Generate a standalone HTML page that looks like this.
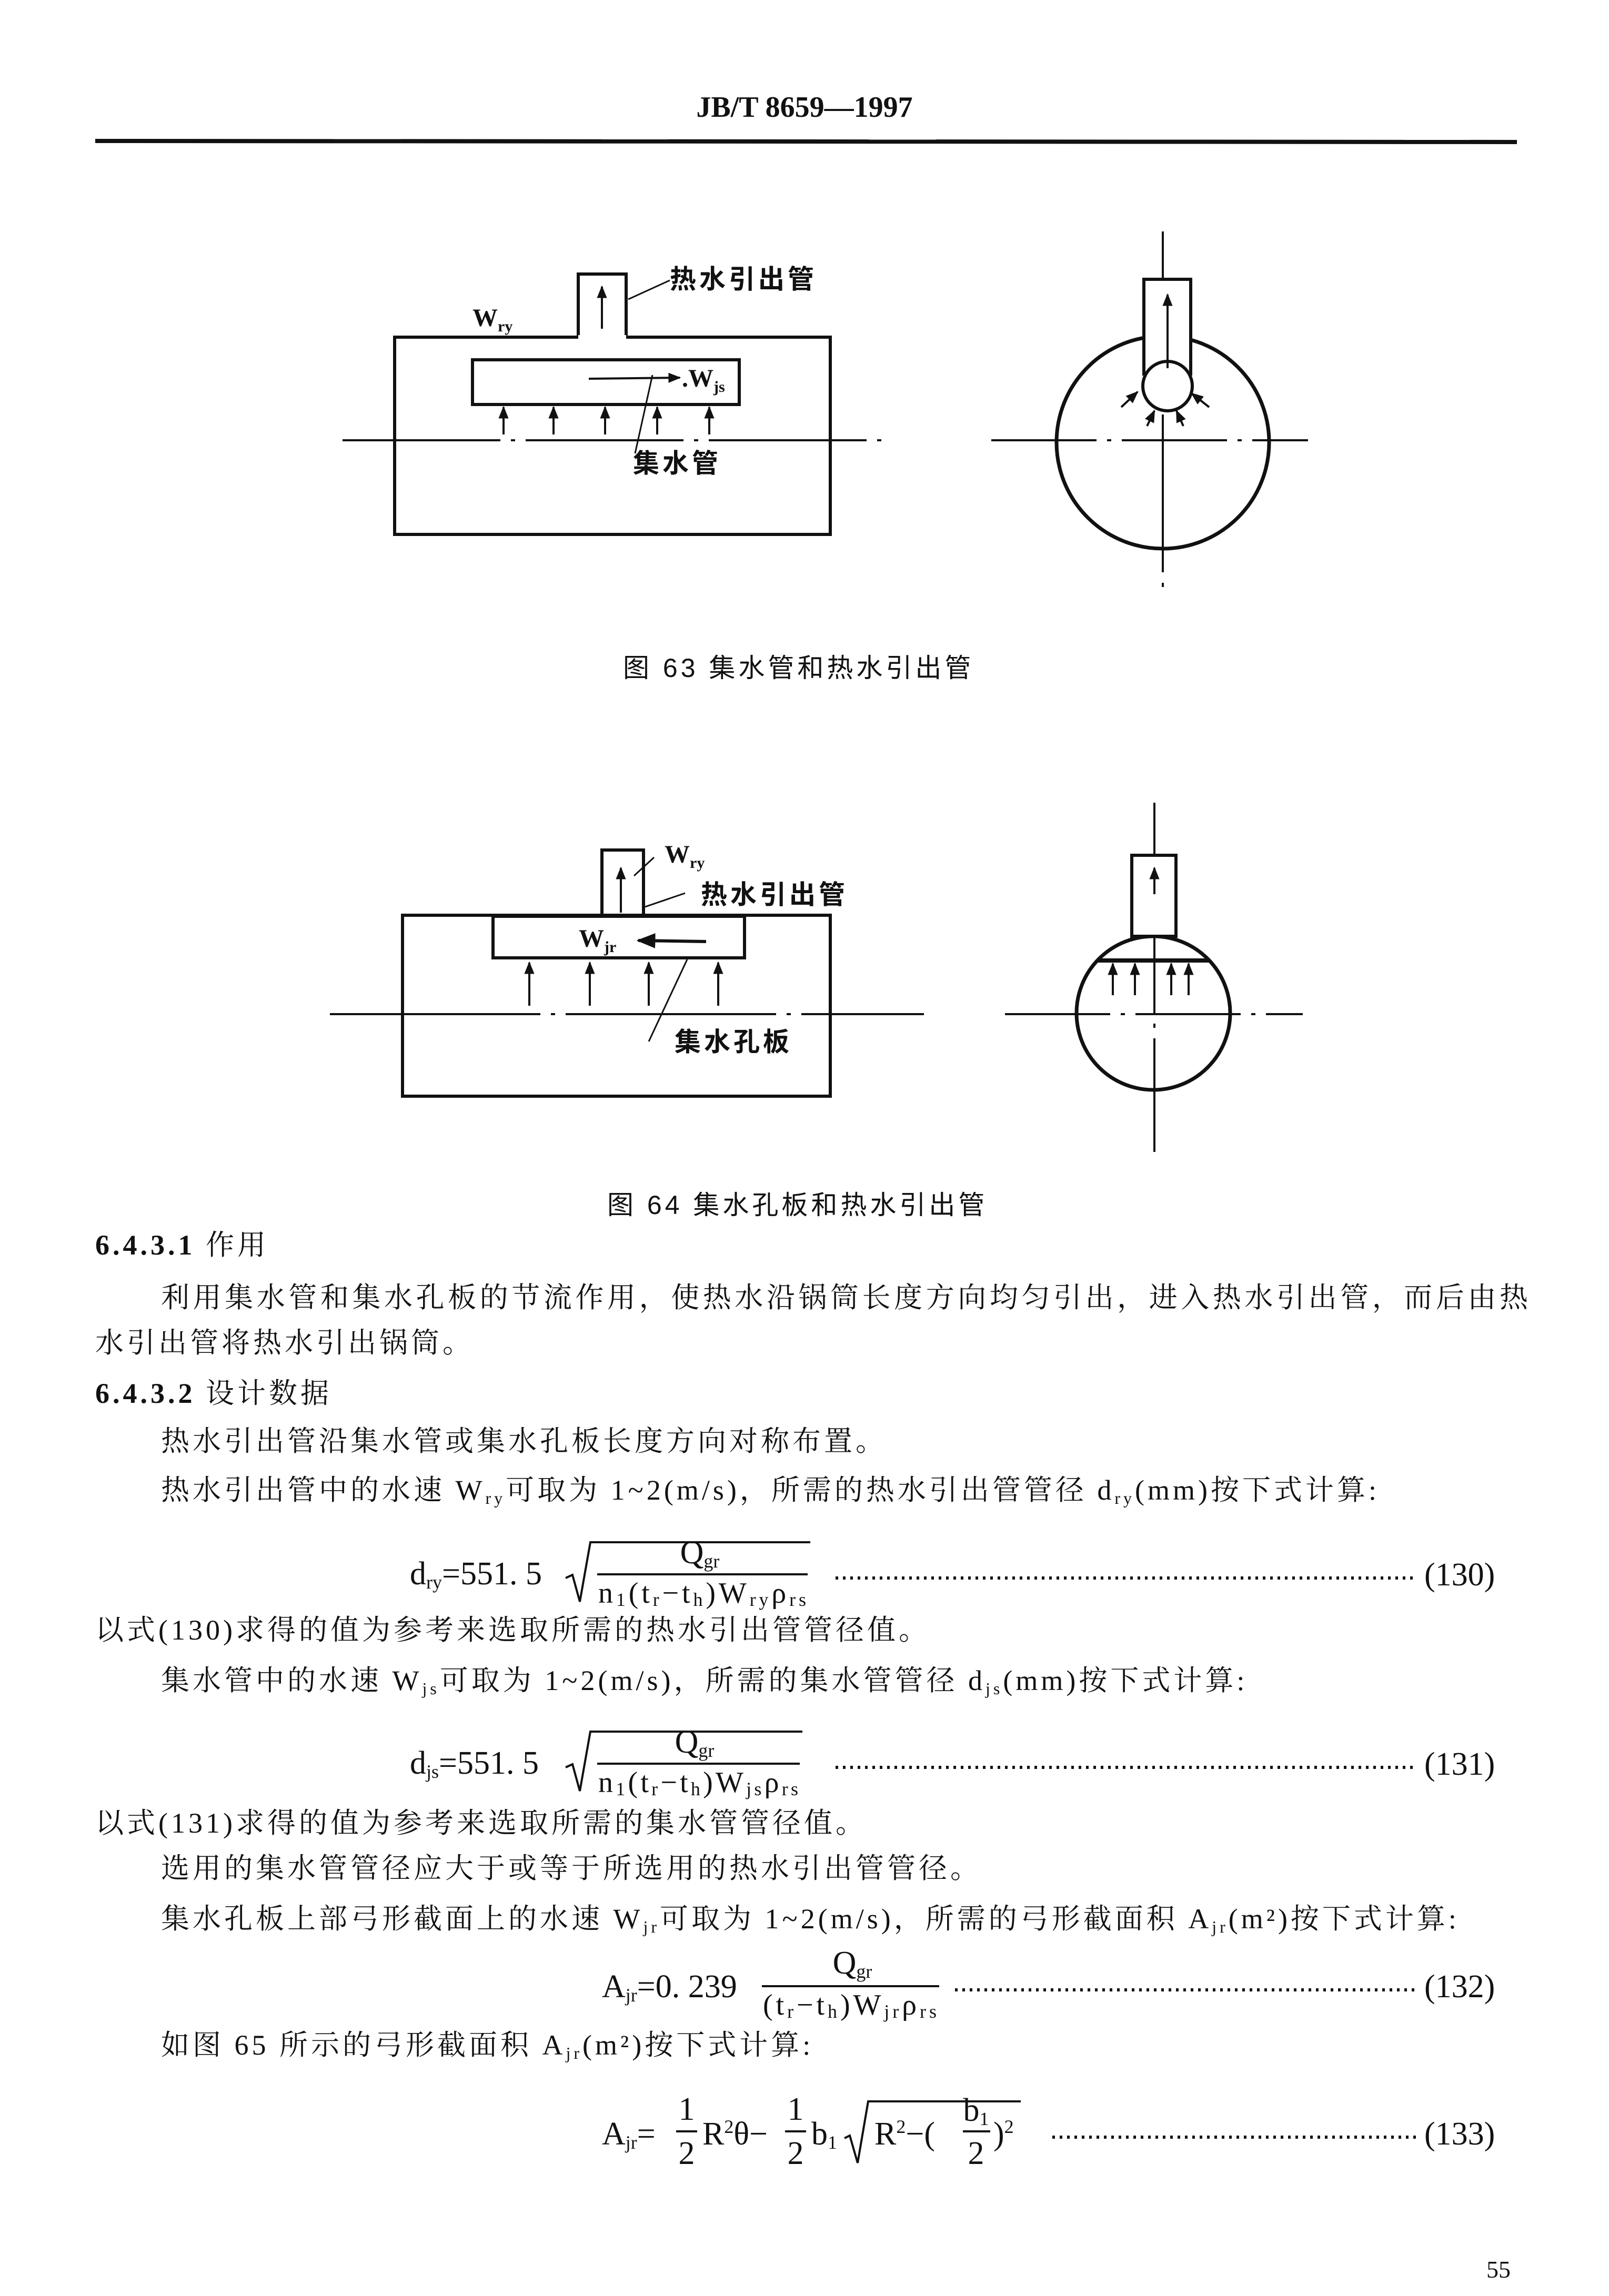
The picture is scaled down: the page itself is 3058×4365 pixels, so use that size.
<!DOCTYPE html>
<html><head><meta charset="utf-8">
<style>
html,body{margin:0;padding:0;background:#fff;}
svg{display:block;}
.t{font-family:"Liberation Serif","Noto Serif CJK SC","Noto Sans CJK SC",serif;font-size:54px;fill:#111;letter-spacing:6px;}
.c{font-family:"Liberation Sans","Noto Sans CJK SC",sans-serif;font-size:50px;fill:#111;letter-spacing:6px;font-weight:bold;}
.m{font-family:"Liberation Serif",serif;font-size:62px;fill:#111;}
.s{font-size:36px;}
</style></head><body>
<svg width="3058" height="4365" viewBox="0 0 3058 4365" xmlns="http://www.w3.org/2000/svg">
<defs><marker id="a" viewBox="0 0 10 10" refX="9" refY="5" markerWidth="6" markerHeight="6" orient="auto"><path d="M0,1 L10,5 L0,9 z" fill="#111"/></marker></defs>
<text x="1529" y="222" text-anchor="middle" style="font-family:'Liberation Serif',serif;font-weight:bold;font-size:56px;fill:#111">JB/T 8659—1997</text>
<line x1="181" y1="268" x2="2883" y2="270" stroke="#111" stroke-width="8"/>

<!-- Fig 63 left -->
<g stroke="#111" fill="none" stroke-width="6">
<rect x="750" y="641" width="828" height="375"/>
<rect x="1099" y="521" width="91" height="120" fill="#fff"/>
<rect x="898" y="684" width="507" height="85" fill="#fff"/>
<line x1="651" y1="837" x2="1677" y2="837" stroke-width="4" stroke-dasharray="300,20,8,20"/>
</g>
<line x1="1099" y1="641" x2="1190" y2="641" stroke="#fff" stroke-width="8"/>
<g stroke="#111" stroke-width="4" marker-end="url(#a)">
<line x1="957" y1="826" x2="957" y2="774"/><line x1="1052" y1="826" x2="1052" y2="774"/>
<line x1="1150" y1="826" x2="1150" y2="774"/><line x1="1249" y1="826" x2="1249" y2="774"/>
<line x1="1348" y1="826" x2="1348" y2="774"/>
<line x1="1144" y1="625" x2="1144" y2="545"/>
<line x1="1119" y1="720" x2="1292" y2="718"/>
</g>
<g stroke="#111" stroke-width="3">
<line x1="1273" y1="533" x2="1194" y2="569"/>
<line x1="1207" y1="862" x2="1240" y2="713"/>
</g>
<text x="1273" y="548" class="c">热水引出管</text>
<text x="898" y="620" class="m" style="font-weight:bold;font-size:48px">W<tspan class="s" dy="10" style="font-size:30px">ry</tspan></text>
<text x="1296" y="735" class="m" style="font-weight:bold;font-size:48px">.W<tspan dy="10" style="font-size:30px">js</tspan></text>
<text x="1203" y="898" class="c">集水管</text>

<!-- Fig 63 right -->
<g stroke="#111" fill="none">
<line x1="2210" y1="440" x2="2210" y2="1120" stroke-width="4" stroke-dasharray="300,20,8,20"/>
<line x1="1884" y1="837" x2="2486" y2="837" stroke-width="4" stroke-dasharray="200,20,8,20"/>
<circle cx="2210" cy="841" r="202" stroke-width="7"/>
<rect x="2174" y="531" width="89" height="180" fill="#fff" stroke-width="6"/>
<circle cx="2219" cy="734" r="47" stroke-width="6" fill="#fff"/>
<line x1="2219" y1="700" x2="2219" y2="560" stroke-width="4" marker-end="url(#a)"/>
</g>
<g stroke="#111" stroke-width="4" marker-end="url(#a)">
<line x1="2131" y1="774" x2="2162" y2="745"/><line x1="2298" y1="774" x2="2265" y2="748"/>
<line x1="2180" y1="810" x2="2194" y2="781"/><line x1="2249" y1="810" x2="2236" y2="781"/>
</g>
<text x="1184" y="1287" class="c" style="font-weight:normal">图 63  集水管和热水引出管</text>

<!-- Fig 64 left -->
<g stroke="#111" fill="none" stroke-width="6">
<rect x="765" y="1740" width="813" height="344"/>
<rect x="1144" y="1616" width="79" height="124"/>
<rect x="937" y="1742" width="478" height="79" fill="#fff"/>
<line x1="627" y1="1928" x2="1756" y2="1928" stroke-width="4" stroke-dasharray="400,20,8,20"/>
</g>
<g stroke="#111" stroke-width="4" marker-end="url(#a)">
<line x1="1006" y1="1912" x2="1006" y2="1830"/><line x1="1121" y1="1912" x2="1121" y2="1830"/>
<line x1="1233" y1="1912" x2="1233" y2="1830"/><line x1="1365" y1="1912" x2="1365" y2="1830"/>
<line x1="1180" y1="1735" x2="1180" y2="1650"/>
<line x1="1342" y1="1790" x2="1213" y2="1788" stroke-width="6"/>
</g>
<g stroke="#111" stroke-width="3">
<line x1="1243" y1="1630" x2="1205" y2="1665"/>
<line x1="1302" y1="1698" x2="1226" y2="1724"/>
<line x1="1233" y1="1980" x2="1306" y2="1824"/>
</g>
<text x="1263" y="1640" class="m" style="font-weight:bold;font-size:48px">W<tspan dy="10" style="font-size:30px">ry</tspan></text>
<text x="1332" y="1718" class="c">热水引出管</text>
<text x="1100" y="1800" class="m" style="font-weight:bold;font-size:48px">W<tspan dy="10" style="font-size:30px">jr</tspan></text>
<text x="1282" y="1998" class="c">集水孔板</text>

<!-- Fig 64 right -->
<g stroke="#111" fill="none">
<line x1="2194" y1="1526" x2="2194" y2="2190" stroke-width="4" stroke-dasharray="400,20,8,20"/>
<line x1="1910" y1="1928" x2="2476" y2="1928" stroke-width="4" stroke-dasharray="200,20,8,20"/>
<circle cx="2192" cy="1926" r="146" stroke-width="7"/>
<rect x="2151" y="1626" width="84" height="154" fill="#fff" stroke-width="6"/>
<line x1="2086" y1="1826" x2="2298" y2="1826" stroke-width="8"/>
<line x1="2194" y1="1700" x2="2194" y2="1650" stroke-width="4" marker-end="url(#a)"/>
</g>
<g stroke="#111" stroke-width="4" marker-end="url(#a)">
<line x1="2115" y1="1892" x2="2115" y2="1832"/><line x1="2157" y1="1892" x2="2157" y2="1832"/>
<line x1="2226" y1="1892" x2="2226" y2="1832"/><line x1="2259" y1="1892" x2="2259" y2="1832"/>
</g>
<text x="1154" y="2308" class="c" style="font-weight:normal">图 64  集水孔板和热水引出管</text>

<!-- Text -->
<text x="181" y="2385" class="t"><tspan style="font-weight:bold">6.4.3.1</tspan>  作用</text>
<text x="306" y="2485" class="t" textLength="2604">利用集水管和集水孔板的节流作用，使热水沿锅筒长度方向均匀引出，进入热水引出管，而后由热</text>
<text x="181" y="2571" class="t">水引出管将热水引出锅筒。</text>
<text x="181" y="2667" class="t"><tspan style="font-weight:bold">6.4.3.2</tspan>  设计数据</text>
<text x="306" y="2758" class="t">热水引出管沿集水管或集水孔板长度方向对称布置。</text>
<text x="306" y="2851" class="t">热水引出管中的水速 W<tspan style="font-size:32px" dy="8">ry</tspan><tspan dy="-8">可取为 1~2(m/s)，所需的热水引出管管径 d</tspan><tspan style="font-size:32px" dy="8">ry</tspan><tspan dy="-8">(mm)按下式计算:</tspan></text>

<!-- F130 -->
<text x="779" y="3012" class="m">d<tspan class="s" dy="8">ry</tspan><tspan dy="-8">=551. 5</tspan></text>
<path d="M1075,3000 L1088,2994 L1102,3045 L1122,2932 L1540,2932" stroke="#111" stroke-width="4" fill="none"/>
<text x="1330" y="2972" class="m" text-anchor="middle">Q<tspan class="s" dy="8">gr</tspan></text>
<line x1="1135" y1="2993" x2="1535" y2="2993" stroke="#111" stroke-width="4"/>
<text x="1137" y="3047" class="m" style="font-size:56px" textLength="395">n<tspan class="s" dy="6">1</tspan><tspan dy="-6">(t</tspan><tspan class="s" dy="6">r</tspan><tspan dy="-6">−t</tspan><tspan class="s" dy="6">h</tspan><tspan dy="-6">)W</tspan><tspan class="s" dy="6">ry</tspan><tspan dy="-6">ρ</tspan><tspan class="s" dy="6">rs</tspan></text>
<line x1="1588" y1="3000" x2="2693" y2="3000" stroke="#111" stroke-width="6" stroke-dasharray="5,9"/>
<text x="2707" y="3014" class="m">(130)</text>

<text x="181" y="3117" class="t">以式(130)求得的值为参考来选取所需的热水引出管管径值。</text>
<text x="306" y="3213" class="t">集水管中的水速 W<tspan style="font-size:32px" dy="8">js</tspan><tspan dy="-8">可取为 1~2(m/s)，所需的集水管管径 d</tspan><tspan style="font-size:32px" dy="8">js</tspan><tspan dy="-8">(mm)按下式计算:</tspan></text>

<!-- F131 -->
<text x="779" y="3372" class="m">d<tspan class="s" dy="8">js</tspan><tspan dy="-8">=551. 5</tspan></text>
<path d="M1075,3360 L1088,3354 L1102,3405 L1122,3292 L1525,3292" stroke="#111" stroke-width="4" fill="none"/>
<text x="1320" y="3332" class="m" text-anchor="middle">Q<tspan class="s" dy="8">gr</tspan></text>
<line x1="1135" y1="3353" x2="1520" y2="3353" stroke="#111" stroke-width="4"/>
<text x="1137" y="3407" class="m" style="font-size:56px" textLength="380">n<tspan class="s" dy="6">1</tspan><tspan dy="-6">(t</tspan><tspan class="s" dy="6">r</tspan><tspan dy="-6">−t</tspan><tspan class="s" dy="6">h</tspan><tspan dy="-6">)W</tspan><tspan class="s" dy="6">js</tspan><tspan dy="-6">ρ</tspan><tspan class="s" dy="6">rs</tspan></text>
<line x1="1588" y1="3360" x2="2693" y2="3360" stroke="#111" stroke-width="6" stroke-dasharray="5,9"/>
<text x="2707" y="3374" class="m">(131)</text>

<text x="181" y="3484" class="t">以式(131)求得的值为参考来选取所需的集水管管径值。</text>
<text x="306" y="3570" class="t">选用的集水管管径应大于或等于所选用的热水引出管管径。</text>
<text x="306" y="3666" class="t">集水孔板上部弓形截面上的水速 W<tspan style="font-size:32px" dy="8">jr</tspan><tspan dy="-8">可取为 1~2(m/s)，所需的弓形截面积 A</tspan><tspan style="font-size:32px" dy="8">jr</tspan><tspan dy="-8">(m²)按下式计算:</tspan></text>

<!-- F132 -->
<text x="1144" y="3797" class="m">A<tspan class="s" dy="8">jr</tspan><tspan dy="-8">=0. 239</tspan></text>
<text x="1620" y="3752" class="m" text-anchor="middle">Q<tspan class="s" dy="8">gr</tspan></text>
<line x1="1448" y1="3776" x2="1785" y2="3776" stroke="#111" stroke-width="4"/>
<text x="1450" y="3830" class="m" style="font-size:56px" textLength="330">(t<tspan class="s" dy="6">r</tspan><tspan dy="-6">−t</tspan><tspan class="s" dy="6">h</tspan><tspan dy="-6">)W</tspan><tspan class="s" dy="6">jr</tspan><tspan dy="-6">ρ</tspan><tspan class="s" dy="6">rs</tspan></text>
<line x1="1815" y1="3783" x2="2693" y2="3783" stroke="#111" stroke-width="6" stroke-dasharray="5,9"/>
<text x="2707" y="3797" class="m">(132)</text>

<text x="306" y="3906" class="t">如图 65 所示的弓形截面积 A<tspan style="font-size:32px" dy="8">jr</tspan><tspan dy="-8">(m²)按下式计算:</tspan></text>

<!-- F133 -->
<text x="1144" y="4077" class="m">A<tspan class="s" dy="8">jr</tspan><tspan dy="-8">=</tspan></text>
<text x="1305" y="4030" class="m" text-anchor="middle">1</text>
<line x1="1285" y1="4052" x2="1325" y2="4052" stroke="#111" stroke-width="4"/>
<text x="1305" y="4114" class="m" text-anchor="middle">2</text>
<text x="1335" y="4077" class="m">R<tspan class="s" dy="-22">2</tspan><tspan dy="22">θ−</tspan></text>
<text x="1512" y="4030" class="m" text-anchor="middle">1</text>
<line x1="1492" y1="4052" x2="1532" y2="4052" stroke="#111" stroke-width="4"/>
<text x="1512" y="4114" class="m" text-anchor="middle">2</text>
<text x="1542" y="4077" class="m">b<tspan class="s" dy="8">1</tspan></text>
<path d="M1605,4065 L1615,4060 L1630,4112 L1650,3995 L1940,3995" stroke="#111" stroke-width="4" fill="none"/>
<text x="1662" y="4077" class="m">R<tspan class="s" dy="-22">2</tspan><tspan dy="22">−(</tspan></text>
<text x="1855" y="4032" class="m" text-anchor="middle">b<tspan class="s" dy="8">1</tspan></text>
<line x1="1830" y1="4052" x2="1882" y2="4052" stroke="#111" stroke-width="4"/>
<text x="1855" y="4114" class="m" text-anchor="middle">2</text>
<text x="1888" y="4077" class="m">)<tspan class="s" dy="-22">2</tspan></text>
<line x1="2000" y1="4063" x2="2693" y2="4063" stroke="#111" stroke-width="6" stroke-dasharray="5,9"/>
<text x="2707" y="4077" class="m">(133)</text>

<text x="2825" y="4330" class="m" style="font-size:46px">55</text>
</svg>
</body></html>
